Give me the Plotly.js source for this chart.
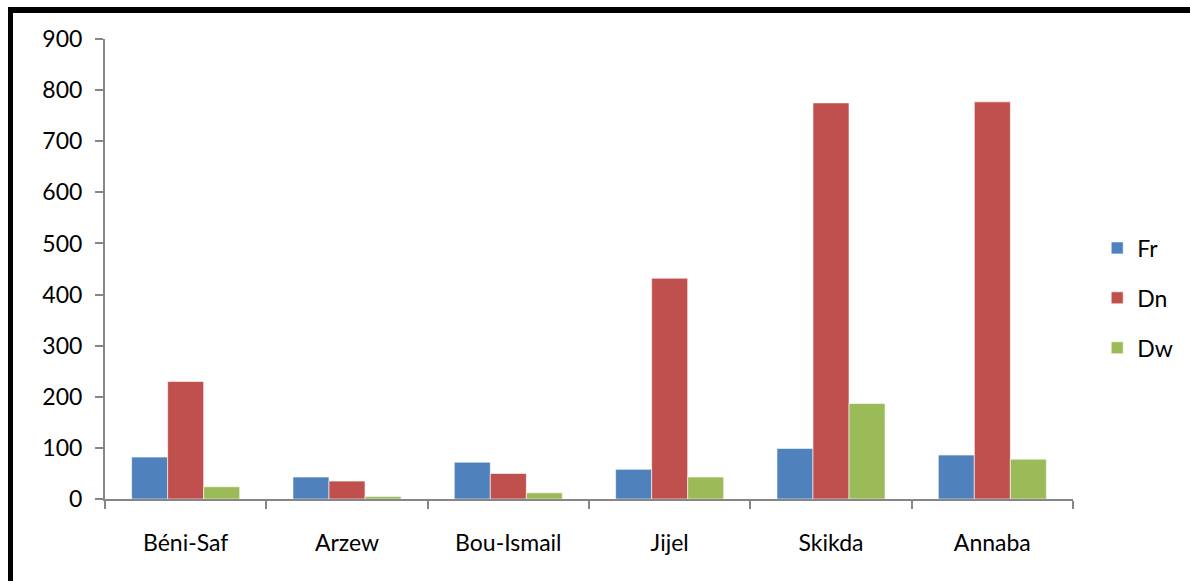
<!DOCTYPE html>
<html>
<head>
<meta charset="utf-8">
<script src="https://cdn.plot.ly/plotly-3.0.1.min.js"></script>
<style>
html,body{margin:0;padding:0;background:#fff;}
#wrap{position:relative;width:1190px;height:581px;overflow:hidden;}
#chart{position:absolute;left:0;top:0;width:1190px;height:581px;}
#frame{position:absolute;left:8px;top:7px;width:1300px;height:700px;border-left:5px solid #000;border-top:6px solid #000;pointer-events:none;}
</style>
</head>
<body>
<div id="wrap"><div id="chart"></div><div id="frame"></div></div>
<script>
const categories = ["Béni-Saf", "Arzew", "Bou-Ismail", "Jijel", "Skikda", "Annaba"];
const seriesNames = ["Fr", "Dn", "Dw"];
const frValues = [82, 43, 72, 58, 99, 86];
const dnValues = [230, 35, 50, 432, 775, 777];
const dwValues = [24, 5, 12, 43, 187, 78];
const yTickValues = [0, 100, 200, 300, 400, 500, 600, 700, 800, 900];

const colors = ["#4F81BD", "#C0504D", "#9BBB59"];
const allValues = [frValues, dnValues, dwValues];
const font = 'Lato, "Open Sans", sans-serif';

const traces = seriesNames.map((n, i) => ({
  type: "bar",
  name: n,
  x: categories,
  y: allValues[i],
  legendgroup: n,
  marker: {color: colors[i], line: {color: "rgba(255,255,255,0.6)", width: 1}},
  hoverinfo: "x+y+name"
}));

const layout = {
  width: 1190, height: 581,
  margin: {l: 105, r: 115, t: 39, b: 82},
  paper_bgcolor: "#fff", plot_bgcolor: "#fff",
  font: {family: font, size: 23, color: "#000"},
  barmode: "group",
  bargap: 0.33,
  bargroupgap: 0,
  showlegend: true,
  legend: {
    x: 1.025, xanchor: "left", y: 0.437, yanchor: "middle",
    font: {family: font, size: 23, color: "#000"},
    tracegroupgap: 17,
    traceorder: "grouped"
  },
  xaxis: {
    type: "category",
    showline: true, linecolor: "#868686", linewidth: 2,
    ticks: "outside", ticklen: 8, tickcolor: "#868686", tickwidth: 2,
    tickson: "boundaries",
    showgrid: false, zeroline: false,
    ticklabelstandoff: 22,
    tickfont: {family: font, size: 23, color: "#000"}
  },
  yaxis: {
    range: [0, 900],
    tickvals: yTickValues,
    showline: true, linecolor: "#868686", linewidth: 2,
    ticks: "outside", ticklen: 8, tickcolor: "#868686", tickwidth: 2,
    showgrid: false, zeroline: false,
    ticklabelstandoff: 8,
    tickfont: {family: font, size: 23, color: "#000"}
  }
};

Plotly.newPlot("chart", traces, layout, {displayModeBar: false, staticPlot: true});
</script>
</body>
</html>
